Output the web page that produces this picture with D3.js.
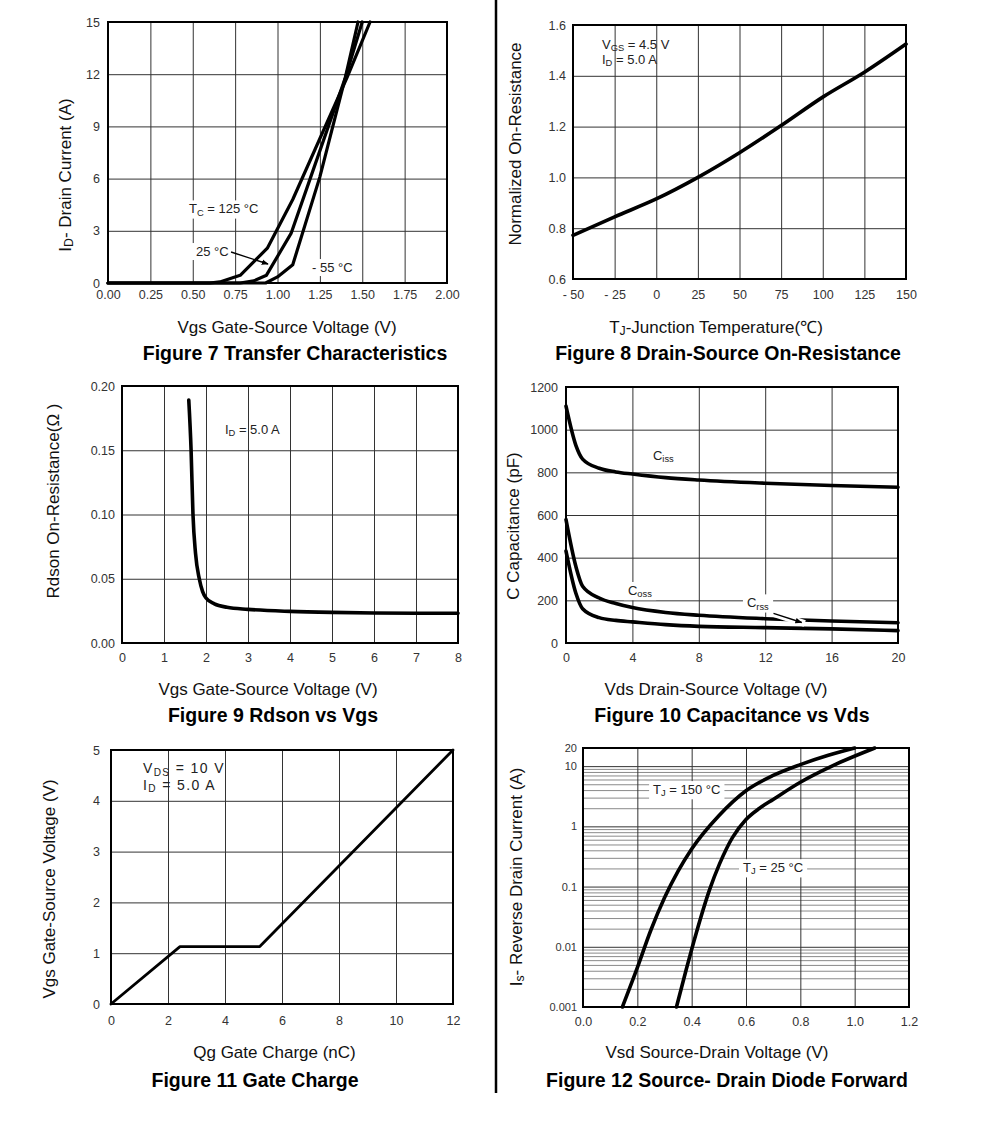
<!DOCTYPE html>
<html>
<head>
<meta charset="utf-8">
<style>
    body { margin: 0; background: #fff; }
    svg { display: block; font-family: 'Liberation Sans', Arial, sans-serif; }
    .tick text { fill: #333; font-size: 12.5px; font-family: 'Liberation Sans', Arial, sans-serif; }
    .grid .tick line { stroke: #333; stroke-width: 1px; }
    .grid.minor .tick line { stroke: #8a8a8a; }
    .frame { fill: none; stroke: #000; stroke-width: 2px; }
    .curve { fill: none; stroke: #000; stroke-linejoin: round; stroke-linecap: round; }
    .axis-title { font-size: 17px; fill: #111; }
    .fig-title { font-size: 19.5px; font-weight: bold; fill: #000; }
    .note { font-size: 13px; fill: #222; }
</style>
</head>
<body>
<svg width="991" height="1134"></svg>

<script src="https://d3js.org/d3.v7.min.js"></script>
<script>
// ---- Figure 7: transfer characteristics (Vgs V, Id A)
const fig7Vgs125 = [0, 0.60, 0.66, 0.78, 0.94, 1.09, 1.41, 1.546];
const fig7Id125  = [0, 0, 0.06, 0.44, 2.0, 4.8, 11.8, 15];
const fig7Vgs25  = [0, 0.78, 0.86, 0.935, 1.08, 1.20, 1.40, 1.50];
const fig7Id25   = [0, 0, 0.12, 0.45, 2.85, 6.2, 11.8, 15];
const fig7VgsM55 = [0, 0.93, 1.0, 1.09, 1.25, 1.40, 1.475];
const fig7IdM55  = [0, 0, 0.35, 1.05, 6.1, 11.8, 15];
const fig7XTicks = [0, 0.25, 0.5, 0.75, 1, 1.25, 1.5, 1.75, 2];
const fig7YTicks = [0, 3, 6, 9, 12, 15];

// ---- Figure 8: normalized on-resistance vs Tj
const fig8Tj   = [-50, -25, 0, 25, 50, 75, 100, 125, 150];
const fig8Rn   = [0.772, 0.845, 0.915, 1.0, 1.097, 1.204, 1.316, 1.414, 1.525];
const fig8XTicks = [-50, -25, 0, 25, 50, 75, 100, 125, 150];
const fig8YTicks = [0.6, 0.8, 1.0, 1.2, 1.4, 1.6];

// ---- Figure 9: Rdson vs Vgs
const fig9Vgs  = [1.59, 1.645, 1.69, 1.75, 1.84, 1.92, 2.0, 2.2, 2.5, 3, 4, 5, 6, 7, 8];
const fig9Rds  = [0.189, 0.15, 0.10, 0.07, 0.05, 0.04, 0.035, 0.0305, 0.0278, 0.0262, 0.0246, 0.0238, 0.0234, 0.0232, 0.0231];
const fig9XTicks = [0, 1, 2, 3, 4, 5, 6, 7, 8];
const fig9YTicks = [0, 0.05, 0.10, 0.15, 0.20];

// ---- Figure 10: capacitance vs Vds
const fig10Vds  = [0, 0.6, 1, 2, 3, 4, 6, 8, 12, 16, 20];
const fig10Ciss = [1110, 925, 862, 819, 802, 792, 775, 764, 749, 738, 730];
const fig10Coss = [578, 357, 266, 211, 185, 166, 143, 130, 114, 103, 95];
const fig10Crss = [431, 232, 161, 119, 106, 99, 86, 78, 72, 66, 58];
const fig10XTicks = [0, 4, 8, 12, 16, 20];
const fig10YTicks = [0, 200, 400, 600, 800, 1000, 1200];

// ---- Figure 11: gate charge
const fig11Qg  = [0, 2.42, 5.22, 12];
const fig11Vgs = [0, 1.13, 1.13, 5];
const fig11XTicks = [0, 2, 4, 6, 8, 10, 12];
const fig11YTicks = [0, 1, 2, 3, 4, 5];

// ---- Figure 12: source-drain diode forward
const fig12Vsd150 = [0.145, 0.2, 0.25, 0.3, 0.35, 0.4, 0.5, 0.6, 0.7, 0.8, 0.9, 1.0];
const fig12Is150  = [0.001, 0.0045, 0.019, 0.065, 0.18, 0.42, 1.5, 3.9, 7.0, 10.6, 15, 20];
const fig12Vsd25  = [0.344, 0.38, 0.417, 0.466, 0.503, 0.55, 0.6, 0.65, 0.7, 0.8, 0.92, 1.074];
const fig12Is25   = [0.001, 0.0042, 0.017, 0.089, 0.24, 0.65, 1.3, 2.0, 2.8, 5.4, 10.2, 20];
const fig12XTicks = [0, 0.2, 0.4, 0.6, 0.8, 1.0, 1.2];
const fig12YTicks = [0.001, 0.01, 0.1, 1, 10, 20];
const fig12Minor  = [0.002, 0.003, 0.004, 0.005, 0.006, 0.007, 0.008, 0.009,
                     0.02, 0.03, 0.04, 0.05, 0.06, 0.07, 0.08, 0.09,
                     0.2, 0.3, 0.4, 0.5, 0.6, 0.7, 0.8, 0.9,
                     2, 3, 4, 5, 6, 7, 8, 9];

let svg = d3.select("svg");

svg.append("defs").append("marker")
    .attr("id", "head")
    .attr("viewBox", "0 0 10 10")
    .attr("refX", 9).attr("refY", 5)
    .attr("markerWidth", 7).attr("markerHeight", 7)
    .attr("markerUnits", "userSpaceOnUse")
    .attr("orient", "auto")
    .append("path").attr("d", "M0,1 L10,5 L0,9 Z").attr("fill", "#000");

// divider between the columns
svg.append("line")
    .attr("x1", 496).attr("x2", 496).attr("y1", 0).attr("y2", 1093)
    .attr("stroke", "#000").attr("stroke-width", 2.5);

function panel(box, xDom, yDom, opt) {
    let [L, R, T, B] = box;
    let x = d3.scaleLinear().domain(xDom).range([L, R]);
    let y = (opt.log ? d3.scaleLog() : d3.scaleLinear()).domain(yDom).range([B, T]);
    let g = svg.append("g");

    if (opt.minor) {
        g.append("g").attr("class", "grid minor")
            .attr("transform", `translate(${L},0)`)
            .call(d3.axisLeft(y).tickValues(opt.minor).tickSize(-(R - L)).tickFormat(""))
            .call(a => a.select(".domain").remove());
    }
    g.append("g").attr("class", "grid")
        .attr("transform", `translate(0,${B})`)
        .call(d3.axisBottom(x).tickValues(opt.xTicks).tickSize(-(B - T))
            .tickPadding(opt.xPad).tickFormat(opt.xFmt))
        .call(a => a.select(".domain").remove());
    let ya = g.append("g").attr("class", "grid")
        .attr("transform", `translate(${L},0)`)
        .call(d3.axisLeft(y).tickValues(opt.yTicks).tickSize(-(R - L))
            .tickPadding(opt.yPad).tickFormat(opt.yFmt))
        .call(a => a.select(".domain").remove());
    if (opt.yFont) ya.selectAll("text").style("font-size", opt.yFont);
    g.append("rect").attr("class", "frame")
        .attr("x", L).attr("y", T).attr("width", R - L).attr("height", B - T);

    // titles
    g.append("text").attr("class", "axis-title")
        .attr("transform", `translate(${opt.yT[0]},${opt.yT[1]}) rotate(-90)`)
        .attr("text-anchor", "middle")
        .call(t => parts(t, opt.yLabel));
    g.append("text").attr("class", "axis-title")
        .attr("x", opt.xT[0]).attr("y", opt.xT[1])
        .attr("text-anchor", "middle")
        .call(t => parts(t, opt.xLabel));
    g.append("text").attr("class", "fig-title")
        .attr("x", opt.title[0]).attr("y", opt.title[1])
        .attr("text-anchor", "middle")
        .text(opt.title[2]);
    return { g, x, y };
}

// text with subscripts: [["I"], ["D", true], [" = 5.0 A"]]
function parts(t, list) {
    let down = false;
    list.forEach(p => {
        let s = t.append("tspan").text(p[0]);
        if (p[1]) { s.attr("font-size", "0.72em").attr("dy", 2.2); down = true; }
        else if (down) { s.attr("dy", -2.2); down = false; }
    });
}

function curve(p, xs, ys, w, c) {
    let line = d3.line().x(d => p.x(d[0])).y(d => p.y(d[1])).curve(c || d3.curveLinear);
    p.g.append("path").attr("class", "curve").style("stroke-width", w)
        .attr("d", line(d3.zip(xs, ys)));
}

function note(p, xv, yv, list, knock, extra) {
    let t = p.g.append("text").attr("class", "note")
        .attr("x", p.x(xv)).attr("y", p.y(yv))
        .call(s => parts(s, list));
    if (extra) extra(t);
    if (knock) {
        let b = t.node().getBBox();
        p.g.insert("rect", () => t.node())
            .attr("x", b.x - 4).attr("y", b.y - 1)
            .attr("width", b.width + 8).attr("height", b.height + 2)
            .attr("fill", "#fff");
    }
    return t;
}

function arrow(p, a, b, halo) {
    if (halo) {
        p.g.append("line")
            .attr("x1", p.x(a[0])).attr("y1", p.y(a[1]))
            .attr("x2", p.x(b[0]) + 3).attr("y2", p.y(b[1]) + 1)
            .attr("stroke", "#fff").attr("stroke-width", 7);
    }
    p.g.append("line")
        .attr("x1", p.x(a[0])).attr("y1", p.y(a[1]))
        .attr("x2", p.x(b[0])).attr("y2", p.y(b[1]))
        .attr("stroke", "#000").attr("stroke-width", 1.4)
        .attr("marker-end", "url(#head)");
}

// ---------- Figure 7
let p7 = panel([108, 447, 22, 283], [0, 2], [0, 15], {
    xTicks: fig7XTicks, yTicks: fig7YTicks, xFmt: d3.format(".2f"), yFmt: d3.format("d"),
    xPad: 7, yPad: 8,
    yLabel: [["I"], ["D", true], ["- Drain Current (A)"]], yT: [71, 175],
    xLabel: [["Vgs Gate-Source Voltage (V)"]], xT: [287, 333],
    title: [295, 360, "Figure 7 Transfer Characteristics"]
});
curve(p7, fig7Vgs125, fig7Id125, 3.2);
curve(p7, fig7Vgs25, fig7Id25, 3.2);
curve(p7, fig7VgsM55, fig7IdM55, 3.2);
note(p7, 0.478, 4.0, [["T"], ["C", true], [" = 125 °C"]], true);
note(p7, 0.519, 1.55, [["25 °C"]], true);
note(p7, 1.204, 0.63, [["- 55 °C"]], true);
arrow(p7, [0.726, 1.78], [0.944, 1.09], false);

// ---------- Figure 8
let p8 = panel([573, 906, 25, 279], [-50, 150], [0.6, 1.6], {
    xTicks: fig8XTicks, yTicks: fig8YTicks,
    xFmt: d => d < 0 ? "- " + Math.abs(d) : String(d), yFmt: d3.format(".1f"),
    xPad: 11, yPad: 7,
    yLabel: [["Normalized On-Resistance"]], yT: [521, 144],
    xLabel: [["T"], ["J", true], ["-Junction Temperature(℃)"]], xT: [716, 333],
    title: [728, 360, "Figure 8 Drain-Source On-Resistance"]
});
curve(p8, fig8Tj, fig8Rn, 3.6, d3.curveMonotoneX);
note(p8, -32.6, 1.505, [["V"], ["GS", true], [" = 4.5 V"]], false);
note(p8, -32.6, 1.448, [["I"], ["D", true], [" = 5.0 A"]], false);

// ---------- Figure 9
let p9 = panel([122, 458, 386, 643], [0, 8], [0, 0.2], {
    xTicks: fig9XTicks, yTicks: fig9YTicks, xFmt: d3.format("d"), yFmt: d3.format(".2f"),
    xPad: 10, yPad: 7,
    yLabel: [["Rdson On-Resistance(Ω )"]], yT: [59, 501],
    xLabel: [["Vgs Gate-Source Voltage (V)"]], xT: [268, 695],
    title: [273, 721.5, "Figure 9 Rdson vs Vgs"]
});
curve(p9, fig9Vgs, fig9Rds, 3.6, d3.curveMonotoneX);
note(p9, 2.45, 0.163, [["I"], ["D", true], [" = 5.0 A"]], false);

// ---------- Figure 10
let p10 = panel([566, 898, 387, 643], [0, 20], [0, 1200], {
    xTicks: fig10XTicks, yTicks: fig10YTicks, xFmt: d3.format("d"), yFmt: d3.format("d"),
    xPad: 10, yPad: 8,
    yLabel: [["C Capacitance (pF)"]], yT: [519, 526],
    xLabel: [["Vds Drain-Source Voltage (V)"]], xT: [716, 695],
    title: [732, 721.5, "Figure 10 Capacitance vs Vds"]
});
curve(p10, fig10Vds, fig10Ciss, 3.6, d3.curveMonotoneX);
curve(p10, fig10Vds, fig10Coss, 3.6, d3.curveMonotoneX);
curve(p10, fig10Vds, fig10Crss, 3.6, d3.curveMonotoneX);
note(p10, 5.24, 858, [["C"], ["iss", true]], false);
note(p10, 3.73, 225, [["C"], ["oss", true]], true);
note(p10, 10.9, 167, [["C"], ["rss", true]], true);
arrow(p10, [12.5, 139], [14.2, 96], true);

// ---------- Figure 11
let p11 = panel([111, 453, 750, 1004], [0, 12], [0, 5], {
    xTicks: fig11XTicks, yTicks: fig11YTicks, xFmt: d3.format("d"), yFmt: d3.format("d"),
    xPad: 12, yPad: 11,
    yLabel: [["Vgs Gate-Source Voltage (V)"]], yT: [55, 889],
    xLabel: [["Qg Gate Charge (nC)"]], xT: [274.5, 1058],
    title: [255, 1086.5, "Figure 11 Gate Charge"]
});
curve(p11, fig11Qg, fig11Vgs, 2.8);
note(p11, 1.12, 4.54, [["V"], ["DS", true], [" = 10 V"]], false,
    t => t.style("font-size", "14px").style("letter-spacing", "1.4px"));
note(p11, 1.12, 4.21, [["I"], ["D", true], [" = 5.0 A"]], false,
    t => t.style("font-size", "14px").style("letter-spacing", "1.4px"));

// ---------- Figure 12
let p12 = panel([583, 909, 748, 1007], [0, 1.2], [0.001, 20], {
    log: true, minor: fig12Minor,
    xTicks: fig12XTicks, yTicks: fig12YTicks, xFmt: d3.format(".1f"), yFmt: d => String(d),
    xPad: 10, yPad: 6, yFont: "11px",
    yLabel: [["I"], ["s", true], ["- Reverse Drain Current (A)"]], yT: [522, 877],
    xLabel: [["Vsd Source-Drain Voltage (V)"]], xT: [717, 1058],
    title: [727, 1086.5, "Figure 12 Source- Drain Diode Forward"]
});
curve(p12, fig12Vsd150, fig12Is150, 3.6, d3.curveMonotoneX);
curve(p12, fig12Vsd25, fig12Is25, 3.6, d3.curveMonotoneX);
note(p12, 0.258, 3.43, [["T"], ["J", true], [" = 150 °C"]], true);
note(p12, 0.589, 0.173, [["T"], ["J", true], [" = 25 °C"]], true);
</script>
</body>
</html>
